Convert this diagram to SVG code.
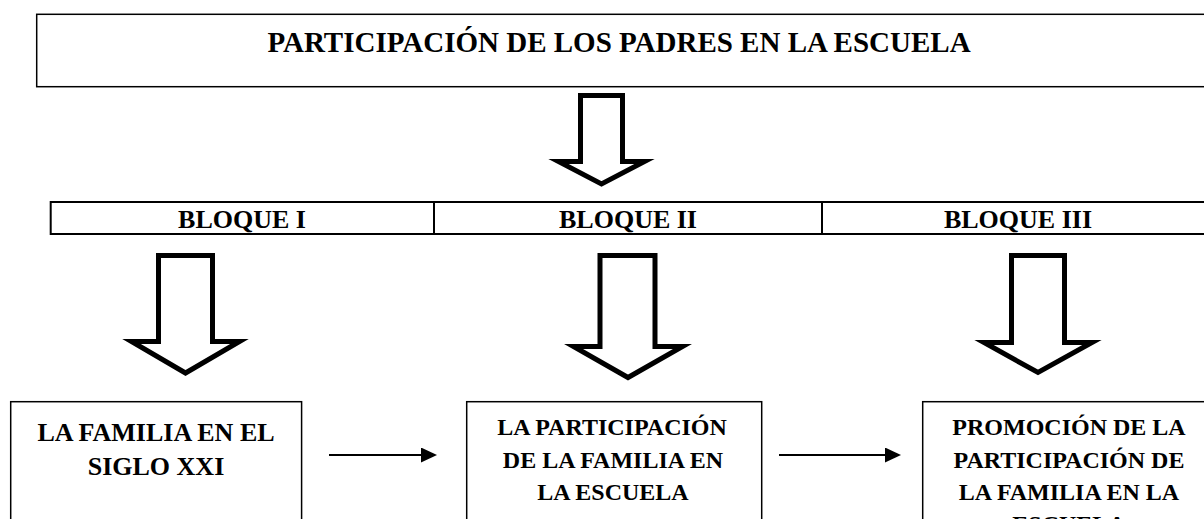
<svg xmlns="http://www.w3.org/2000/svg" width="1204" height="519" viewBox="0 0 1204 519">
  <style>
    .box { fill: #ffffff; stroke: #000000; stroke-width: 1.5; }
    .row { fill: #ffffff; stroke: #000000; stroke-width: 2; }
    .t { font-family: "Liberation Serif", "Times New Roman", serif; font-weight: bold; fill: #000000; text-anchor: middle; }
    .block { fill: #ffffff; stroke: #000000; stroke-width: 5; stroke-linejoin: miter; stroke-miterlimit: 10; }
    .conn { stroke: #000000; stroke-width: 2; fill: none; }
  </style>
  <defs>
    <marker id="head" markerUnits="userSpaceOnUse" markerWidth="16" markerHeight="15" refX="0" refY="7.5" orient="auto" viewBox="0 0 16 15">
      <path d="M0,0 L16,7.5 L0,15 Z" fill="#000000"/>
    </marker>
  </defs>
  <rect x="0" y="0" width="1204" height="519" fill="#ffffff"/>

  <g id="title">
    <rect class="box" x="36.7" y="14.3" width="1180" height="72.4"/>
    <text class="t" x="619" y="51.7" font-size="29">PARTICIPACIÓN DE LOS PADRES EN LA ESCUELA</text>
  </g>

  <g id="bloques">
    <rect class="row" x="50.7" y="202" width="1170" height="32"/>
    <line class="row" x1="434" y1="202" x2="434" y2="234"/>
    <line class="row" x1="822" y1="202" x2="822" y2="234"/>
  </g>
  <g id="bloque1">
    <text class="t" x="242" y="227.5" font-size="26">BLOQUE I</text>
  </g>
  <g id="bloque2">
    <text class="t" x="628" y="227.5" font-size="26">BLOQUE II</text>
  </g>
  <g id="bloque3">
    <text class="t" x="1018" y="227.5" font-size="26">BLOQUE III</text>
  </g>

  <g id="box1">
    <rect class="box" x="10.7" y="401.7" width="290.9" height="140"/>
    <text class="t" x="156" y="440.5" font-size="26">LA FAMILIA EN EL</text>
    <text class="t" x="156" y="474.5" font-size="26">SIGLO XXI</text>
  </g>
  <g id="box2">
    <rect class="box" x="466.7" y="401.7" width="295" height="140"/>
    <text class="t" x="612" y="435" font-size="24">LA PARTICIPACIÓN</text>
    <text class="t" x="613" y="467.5" font-size="24">DE LA FAMILIA EN</text>
    <text class="t" x="613" y="500" font-size="24">LA ESCUELA</text>
  </g>
  <g id="box3">
    <rect class="box" x="922.7" y="401.7" width="295" height="140"/>
    <text class="t" x="1069" y="435" font-size="24">PROMOCIÓN DE LA</text>
    <text class="t" x="1069" y="467.5" font-size="24">PARTICIPACIÓN DE</text>
    <text class="t" x="1069" y="500" font-size="24">LA FAMILIA EN LA</text>
    <text class="t" x="1069" y="531.5" font-size="24">ESCUELA</text>
  </g>

  <g id="connectors">
    <path class="block" d="M580.5,95.5 L622.5,95.5 L622.5,161.5 L644.5,161.5 L601.5,184 L558.5,161.5 L580.5,161.5 Z"/>
    <path class="block" d="M158.5,255.5 L212.5,255.5 L212.5,341.5 L239.5,341.5 L185.5,373 L131.5,341.5 L158.5,341.5 Z"/>
    <path class="block" d="M600,255.5 L655,255.5 L655,346.5 L682.5,346.5 L628,377.5 L573.5,346.5 L600,346.5 Z"/>
    <path class="block" d="M1011.5,255.5 L1064.5,255.5 L1064.5,342.5 L1092,342.5 L1038,372.5 L984,342.5 L1011.5,342.5 Z"/>
    <line class="conn" x1="329" y1="455" x2="421" y2="455" marker-end="url(#head)"/>
    <line class="conn" x1="779" y1="455" x2="885" y2="455" marker-end="url(#head)"/>
  </g>
</svg>
